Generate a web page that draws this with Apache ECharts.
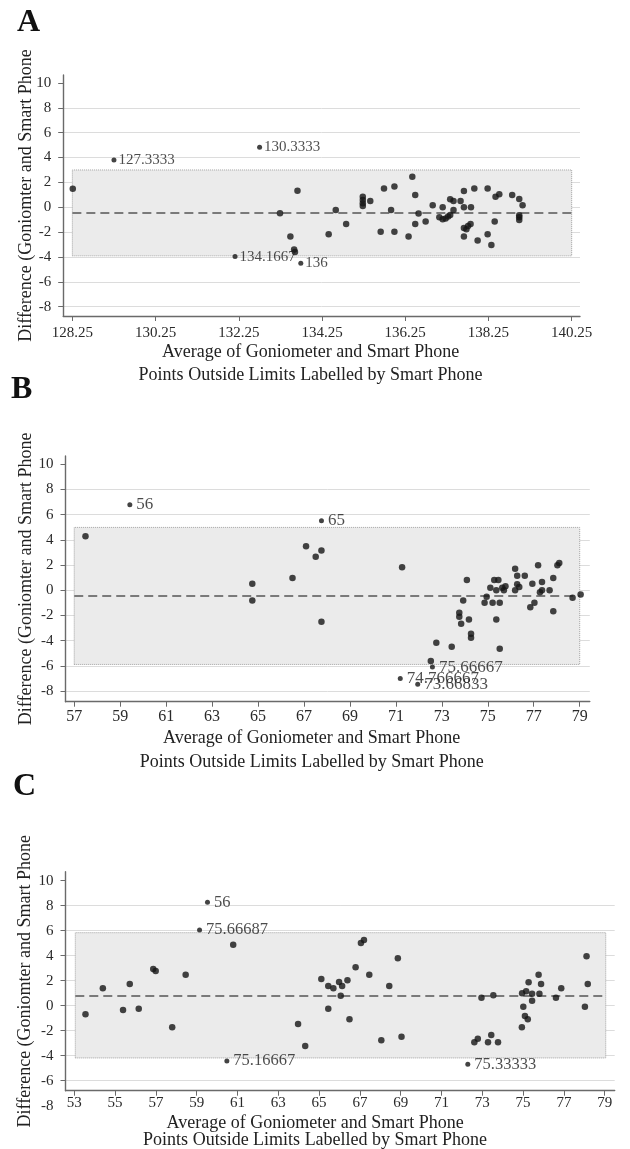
<!DOCTYPE html>
<html><head><meta charset="utf-8">
<script src="https://cdn.jsdelivr.net/npm/echarts@6/dist/echarts.min.js"></script>
<style>html,body{margin:0;padding:0;background:#fff}#c{width:630px;height:1149px}</style>
</head><body><div id="c"></div>
<script>
// ---------- Panel A ----------
const avgA = [128.26,133.66,133.24,133.49,133.58,133.60,134.58,134.41,134.83,135.23,135.23,135.23,135.23,135.41,135.66,135.74,135.91,135.99,135.99,136.33,136.42,136.49,136.49,136.57,136.74,136.91,137.07,137.15,137.15,137.22,137.28,137.33,137.33,137.41,137.41,137.58,137.66,137.66,137.66,137.72,137.76,137.82,137.66,137.83,137.91,137.99,138.23,138.23,138.32,138.40,138.42,138.51,138.82,138.99,138.99,138.99,138.99,139.07];
const diffA = [1.49,1.33,-0.48,-2.36,-3.40,-3.60,-0.22,-2.17,-1.34,0.85,0.59,0.32,0.10,0.51,-1.98,1.50,-0.22,1.66,-1.98,-2.36,2.46,0.99,-1.34,-0.51,-1.15,0.16,-0.80,0.00,-0.96,-0.91,-0.75,-0.62,0.64,0.51,-0.22,0.51,1.31,0.00,-1.66,-1.77,-1.50,-1.34,-2.36,0.00,1.50,-2.68,1.50,-2.17,-3.03,-1.15,0.85,1.04,0.99,0.67,-0.64,-0.80,-1.02,0.16];
const outAvgA = [129.25,132.75,132.16,133.74];
const outDiffA = [3.80,4.82,-3.97,-4.50];
const outTextA = ['127.3333','130.3333','134.1667','136'];
const spanA = [128.25,140.25];
const upperA = 3.0, meanA = -0.43, lowerA = -3.91;
const xTicksA = [128.25,130.25,132.25,134.25,136.25,138.25,140.25];

// ---------- Panel B ----------
const avgB = [57.49,64.75,64.75,66.50,67.09,67.51,67.76,67.76,71.27,72.52,72.76,73.43,73.76,73.76,73.84,73.93,74.09,74.18,74.27,74.27,74.86,74.95,75.11,75.21,75.28,75.37,75.37,75.46,75.52,75.52,75.63,75.70,75.77,76.19,76.19,76.28,76.28,76.37,76.61,76.85,76.94,77.03,77.19,77.27,77.36,77.36,77.69,77.85,77.85,78.03,78.11,78.69,79.04];
const diffB = [4.28,0.51,-0.82,0.98,3.49,2.65,3.15,-2.50,1.82,-5.62,-4.17,-4.49,-1.79,-2.10,-2.66,-0.82,0.82,-2.32,-3.45,-3.77,-1.00,-0.52,0.19,-1.00,0.82,0.00,-2.32,0.82,-1.00,-4.65,0.19,0.00,0.32,1.70,0.00,1.16,0.48,0.26,1.16,-1.35,0.51,-1.00,1.98,-0.16,0.66,0.00,0.00,0.98,-1.66,1.98,2.17,-0.60,-0.34];
const outAvgB = [59.42,67.76,72.59,71.19,71.95];
const outDiffB = [6.79,5.52,-6.10,-7.00,-7.47];
const outTextB = ['56','65','75.66667','74.766667','73.66833'];
const spanB = [57,79];
const upperB = 4.99, meanB = -0.42, lowerB = -5.89;
const xTicksB = [57,59,61,63,65,67,69,71,73,75,77,79];

// ---------- Panel C ----------
const avgC = [53.55,54.40,55.39,55.72,56.16,56.87,56.99,57.80,58.46,60.79,63.97,64.32,65.11,65.45,65.45,65.70,65.98,66.06,66.13,66.39,66.49,66.79,67.05,67.20,67.46,68.05,68.44,68.86,69.04,72.61,72.78,72.96,73.28,73.44,73.54,73.77,74.94,74.95,75.01,75.09,75.15,75.23,75.27,75.44,75.44,75.76,75.80,75.88,76.61,76.87,78.03,78.11,78.17];
const diffC = [-0.69,1.39,-0.34,1.74,-0.24,2.94,2.78,-1.73,2.48,4.88,-1.46,-3.22,2.14,1.58,-0.24,1.39,1.90,0.80,1.58,2.03,-1.09,3.07,5.02,5.26,2.48,-2.77,1.58,3.79,-2.48,-2.93,-2.64,0.64,-2.93,-2.34,0.83,-2.93,-1.73,0.99,-0.08,-0.82,1.15,-1.09,1.87,0.96,0.40,2.48,0.96,1.74,0.64,1.39,-0.08,3.95,1.74];
const outAvgC = [59.53,59.14,60.48,72.29];
const outDiffC = [8.27,6.06,-4.42,-4.69];
const outTextC = ['56','75.66687','75.16667','75.33333'];
const spanC = [53.05,79.05];
const upperC = 5.84, meanC = 0.78, lowerC = -4.18;
const xTicksC = [53,55,57,59,61,63,65,67,69,71,73,75,77,79];

// ---------- shared ticks ----------
const yTicksAB = [-8,-6,-4,-2,0,2,4,6,8,10];
const yTicksC = [-6,-4,-2,0,2,4,6,8,10];
const gridValsAB = [-8,-6,-4,-2,0,2,4,6,8];
const gridValsC = [-6,-4,-2,0,2,4,6,8];
const extraLabelC = -8;

const X_NAME = 'Average of Goniometer and Smart Phone\nPoints Outside Limits Labelled by Smart Phone';
const Y_NAME = 'Difference (Goniomter and Smart Phone';
const FONT = 'Liberation Serif';

const panels = [
  {letter:'A', lpos:{left:17, top:7}, grid:{left:63.2, top:75, width:516.8, height:241},
   xr:[128.03,140.45], yr:[-8.75,10.64], xTicks:xTicksA, yTicks:yTicksAB, gv:gridValsAB,
   avg:avgA, diff:diffA, oa:outAvgA, od:outDiffA, ot:outTextA, span:spanA, up:upperA, mean:meanA, lo:lowerA,
   xls:15, xlm:9.5, yls:15, ols:15, old:2, ng:25.5, nlh:22.5, npad:22, yng:28},
  {letter:'B', lpos:{left:11, top:374}, grid:{left:65.5, top:456, width:524.3, height:245.7},
   xr:[56.62,79.44], yr:[-8.85,10.66], xTicks:xTicksB, yTicks:yTicksAB, gv:gridValsAB,
   avg:avgB, diff:diffB, oa:outAvgB, od:outDiffB, ot:outTextB, span:spanB, up:upperB, mean:meanB, lo:lowerB,
   xls:16, xlm:7, yls:15, ols:17, old:4, ng:24.3, nlh:24, npad:32, yng:30},
  {letter:'C', lpos:{left:13, top:771}, grid:{left:65.5, top:871.7, width:549.2, height:219},
   xr:[52.57,79.49], yr:[-6.8,10.72], xTicks:xTicksC, yTicks:yTicksC, gv:gridValsC,
   avg:avgC, diff:diffC, oa:outAvgC, od:outDiffC, ot:outTextC, span:spanC, up:upperC, mean:meanC, lo:lowerC,
   xls:15, xlm:4.5, yls:15, ols:16.5, old:4, ng:23.9, nlh:17.4, npad:50, yng:31}
];

const option = {animation:false, title:[], grid:[], xAxis:[], yAxis:[], series:[]};
panels.forEach((p, i) => {
  option.title.push({text:p.letter, left:p.lpos.left, top:p.lpos.top, padding:0,
    textStyle:{fontFamily:FONT, fontWeight:'bold', fontSize:32, lineHeight:32, color:'#111'}});
  option.grid.push(Object.assign({outerBoundsMode:'none', containLabel:false}, p.grid));
  option.xAxis.push({gridIndex:i, type:'value', min:p.xr[0], max:p.xr[1],
    axisLine:{show:true, onZero:false, lineStyle:{color:'#6a6a6a', width:1.4}},
    axisTick:{show:true, length:5, customValues:p.xTicks, lineStyle:{color:'#6a6a6a'}},
    axisLabel:{customValues:p.xTicks, margin:p.xlm, fontFamily:FONT, fontSize:p.xls, color:'#2a2a2a'},
    splitLine:{show:false},
    name:X_NAME, nameLocation:'middle', nameGap:p.ng, nameMoveOverlap:false,
    nameTextStyle:{fontFamily:FONT, fontSize:18, lineHeight:p.nlh, color:'#222', padding:[0,p.npad,0,0]}});
  option.yAxis.push({gridIndex:i, type:'value', min:p.yr[0], max:p.yr[1],
    axisLine:{show:true, onZero:false, lineStyle:{color:'#6a6a6a', width:1.4}},
    axisTick:{show:true, length:5, customValues:p.yTicks, lineStyle:{color:'#6a6a6a'}},
    axisLabel:{customValues:p.yTicks, margin:12, fontFamily:FONT, fontSize:p.yls, color:'#2a2a2a'},
    splitLine:{show:false},
    name:Y_NAME, nameLocation:'middle', nameGap:p.yng, nameRotate:90, nameMoveOverlap:false,
    nameTextStyle:{fontFamily:FONT, fontSize:18, color:'#222'}});
  // gridlines
  option.series.push({type:'scatter', xAxisIndex:i, yAxisIndex:i, data:[], silent:true,
    markLine:{silent:true, z:0, symbol:'none', label:{show:false},
      lineStyle:{color:'#dcdcdc', width:1, type:'solid'},
      emphasis:{disabled:true},
      data:p.gv.map(v => ({yAxis:v}))}});
  // main points + limits band + mean line
  option.series.push({type:'scatter', xAxisIndex:i, yAxisIndex:i, z:3, symbolSize:6.5,
    itemStyle:{color:'#151515'}, emphasis:{disabled:true}, silent:true,
    data:p.avg.map((x,k) => [x, p.diff[k]]),
    markArea:{silent:true, z:1,
      itemStyle:{color:'#ebebeb', borderColor:'#a0a0a0', borderWidth:1, borderType:'dotted'},
      emphasis:{disabled:true},
      data:[[{coord:[p.span[0], p.lo]}, {coord:[p.span[1], p.up]}]]},
    markLine:{silent:true, z:2, symbol:'none', label:{show:false},
      lineStyle:{color:'#7a7a7a', width:2, type:[9,5]},
      emphasis:{disabled:true},
      data:[[{coord:[p.span[0], p.mean]}, {coord:[p.span[1], p.mean]}]]}});
  // labelled outliers
  option.series.push({type:'scatter', xAxisIndex:i, yAxisIndex:i, z:3, symbolSize:5,
    itemStyle:{color:'#151515'}, emphasis:{disabled:true}, silent:true,
    label:{show:true, position:'right', distance:p.old, formatter:'{b}',
      fontFamily:FONT, fontSize:p.ols, color:'#1e1e1e'},
    data:p.oa.map((x,k) => ({value:[x, p.od[k]], name:p.ot[k]}))});
});

const chart = echarts.init(document.getElementById('c'), null, {renderer:'canvas'});
chart.setOption(option);
// extra tick label of panel C below the axis end, positioned through the axis scale
const yPix = chart.convertToPixel({yAxisIndex:2}, extraLabelC);
const xPix = chart.convertToPixel({xAxisIndex:2}, panels[2].xr[0]);
chart.setOption({graphic:[{type:'text', x:xPix - 12, y:yPix,
  style:{text:String(extraLabelC), align:'right', verticalAlign:'middle', font:'15px "Liberation Serif"', fill:'#2a2a2a'}}]});
</script></body></html>
